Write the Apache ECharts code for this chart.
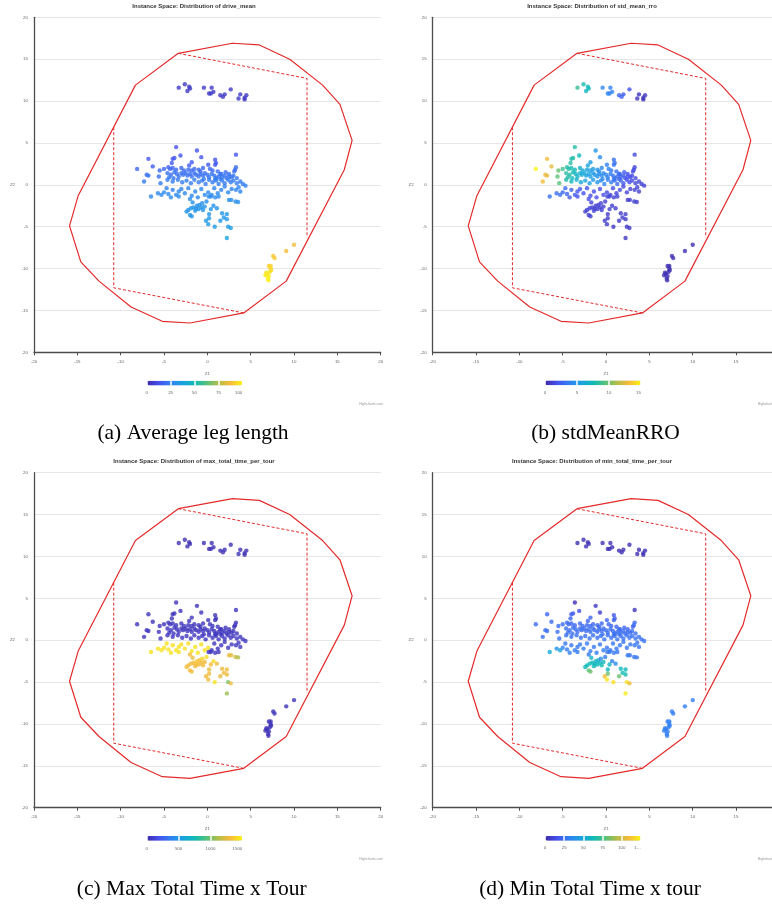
<!DOCTYPE html>
<html>
<head>
<meta charset="utf-8">
<script src="https://cdn.jsdelivr.net/npm/echarts/dist/echarts.min.js"></script>
<style>
html,body{margin:0;padding:0;background:#fff}
#chart{width:772px;height:904px}
</style>
</head>
<body>
<div id="chart"></div>
<script>
// rows: [z1, z2, drive_mean, std_mean_rro, max_total_time_per_tour, min_total_time_per_tour]
var topCluster = [
  [-3.3,11.6,5,8.6,30,3],[-2.6,12.0,5,7.8,30,3],[-2.1,11.7,5,7.4,30,3],[-2.3,11.2,5,7.2,30,3],
  [-2.0,11.5,5,7.4,30,3],[-0.4,11.6,5,4.2,35,3],[0.5,11.6,5,4.0,35,3],[0.7,11.1,5,3.8,35,3],
  [0.2,10.9,5,4.0,35,3],[0.4,10.9,5,3.9,35,3],[1.5,10.7,5,2.8,35,3],[1.8,10.5,5,2.6,35,3],
  [2.0,10.8,5,2.4,35,3],[2.7,11.4,5,2.0,35,3],[3.6,10.3,5,0.6,40,3],[3.8,10.8,5,0.5,40,3],
  [4.3,10.4,5,0.5,40,3],[4.5,10.7,5,0.6,40,3],[4.3,10.2,5,0.4,40,3]
];

var mainUpper = [
  [-3.6,4.5,13,8.0,45,3],[-1.2,4.1,13,5.0,45,6],[-3.1,3.5,13,7.4,45,14],[-0.7,3.3,14,4.4,45,8],
  [0.9,3.0,14,3.2,45,18],[3.3,3.6,13,1.6,45,4],[-6.8,3.1,14,13.2,45,22],[-4.0,3.1,14,8.0,45,20],
  [-3.8,3.2,14,8.0,45,20],[-1.8,2.7,15,5.4,45,22],[0.1,2.4,15,4.0,50,22],[0.9,2.4,15,3.4,50,22],
  [1.0,2.6,15,3.2,50,20],[-6.3,2.2,16,12.6,50,24],[-4.1,2.6,16,8.2,50,22],[-2.1,2.3,16,6.0,50,22],
  [-8.1,1.9,18,15.0,50,24],[-5.5,1.7,18,9.8,50,24],[-5.0,1.9,18,8.8,50,24],[-4.5,2.1,18,8.2,50,23],
  [-4.3,1.9,18,8.0,50,23],[-4.0,2.0,18,7.8,50,23],[-3.6,1.8,19,7.4,50,23],[-3.0,2.0,19,6.6,50,23],
  [-2.7,1.7,19,6.2,50,23],[-2.2,1.8,19,5.8,50,23],[-1.8,1.7,19,5.4,50,23],[-1.5,1.9,19,5.2,50,23],
  [-1.0,1.8,19,4.8,50,23],[-0.8,1.6,19,4.6,50,23],[-0.5,2.0,19,4.2,50,23],[0.3,1.9,19,3.8,50,23],
  [0.6,1.7,19,3.6,50,23],[1.2,1.6,20,3.0,50,23],[1.6,1.3,20,2.8,50,23],[2.1,1.5,20,2.4,50,23],
  [2.5,1.3,20,2.0,50,23],[3.2,1.8,20,1.6,50,23],[3.3,2.1,20,1.5,50,23],[3.1,1.6,20,1.6,50,23],
  [-7.0,1.2,21,12.8,55,25],[-6.8,1.1,21,12.6,55,25],[-5.6,1.0,21,9.6,55,25],[-4.6,1.4,21,8.2,55,25],
  [-4.2,1.2,21,8.0,55,25],[-3.8,1.5,21,7.6,55,25],[-3.5,1.3,21,7.0,55,25],[-3.3,1.0,21,6.8,55,25],
  [-3.0,1.4,21,6.4,55,25],[-2.8,1.2,21,6.2,55,25],[-2.5,1.4,21,6.0,55,25],[-2.3,1.1,21,5.8,55,25],
  [-2.0,1.3,21,5.6,55,25],[-1.8,1.0,21,5.4,55,25],[-1.5,1.4,21,5.2,55,25],[-1.3,1.2,21,5.0,55,25],
  [-1.0,1.0,21,4.8,55,25],[-0.8,1.3,21,4.6,55,25],[-0.5,1.1,21,4.4,55,25],[-0.3,1.4,21,4.2,55,25],
  [0.0,1.2,21,4.0,55,25],[0.2,0.9,22,3.8,55,25],[0.5,1.3,22,3.6,55,25],[0.8,1.1,22,3.4,55,25],
  [1.0,0.8,22,3.2,55,25],[1.3,1.0,22,3.0,55,25],[1.5,1.3,22,2.8,55,25],[1.7,0.9,22,2.6,55,25],
  [2.0,1.1,22,2.4,55,25],[2.2,0.8,22,2.2,55,25],[2.5,1.0,22,2.0,55,25],[2.8,0.9,22,1.8,55,25],
  [3.0,1.1,22,1.6,55,25],[3.4,0.8,22,1.4,55,25],[-4.4,0.9,22,8.0,55,25],[-3.9,0.8,22,7.4,55,25],
  [-7.3,0.4,24,13.0,60,26],[-5.4,0.2,24,9.4,60,26],[-4.6,0.6,24,8.0,60,26],[-4.0,0.4,24,7.2,60,26],
  [-3.4,0.6,24,6.6,60,26],[-2.9,0.3,24,6.2,60,26],[-2.4,0.5,24,5.8,60,26],[-1.9,0.2,24,5.4,60,26],
  [-1.5,0.6,24,5.2,60,26],[-1.0,0.3,24,4.8,60,26],[-0.6,0.5,24,4.4,60,26],[-0.2,0.1,24,4.0,60,26],
  [0.2,0.6,24,3.8,60,26],[0.6,0.3,24,3.6,60,26],[1.0,0.5,24,3.0,60,26],[1.3,0.1,24,2.8,60,26],
  [1.7,0.5,24,2.6,60,26],[2.0,0.2,24,2.4,60,26],[2.4,0.6,24,2.0,60,26],[2.7,0.3,24,1.8,60,26],
  [3.0,0.5,24,1.6,60,26],[3.4,0.2,24,1.4,60,26],[3.8,0.4,24,1.2,60,26],[4.1,0.1,24,1.2,60,26],
  [4.4,-0.1,25,1.1,60,26],[0.9,0.7,24,3.2,60,26],[1.5,0.7,24,2.8,60,26],[-0.4,0.7,24,4.2,60,26]
];

var mainLower = [
  [-6.5,-1.4,28,3.2,1440,50],[-5.7,-1.0,28,3.0,1440,40],[-5.3,-1.2,28,3.0,1440,48],[-5.0,-0.9,28,2.8,1440,32],
  [-4.7,-0.4,27,3.0,1430,28],[-4.5,-1.1,28,2.6,1440,30],[-4.0,-0.6,27,2.4,1430,28],[-3.6,-1.2,28,2.2,1440,30],
  [-3.3,-0.8,28,2.2,1440,28],[-3.0,-0.5,27,2.2,1420,28],[-2.6,-1.0,28,2.0,1440,30],[-2.2,-0.4,27,2.0,1420,28],
  [-1.8,-1.3,28,1.8,1440,30],[-1.4,-0.8,28,1.8,1440,28],[-1.1,-1.5,28,1.8,1440,30],[-0.7,-0.5,27,1.8,1430,28],
  [-0.3,-1.2,28,1.6,1440,30],[0.1,-0.9,28,1.6,1440,28],[0.4,-1.4,28,1.6,60,30],[0.8,-0.4,27,1.6,60,28],
  [1.2,-1.0,28,1.4,60,28],[1.6,-0.6,27,1.4,60,28],[2.0,-0.2,26,1.4,60,28],[2.4,-0.9,28,1.2,60,28],
  [2.8,-0.5,27,1.2,60,28],[3.3,-0.6,27,1.2,60,28],[3.6,-0.3,26,1.2,60,28],[3.8,-0.8,27,1.1,60,28],
  [-2.0,-1.7,30,1.8,1300,30],[-3.3,-1.4,29,2.0,1440,30],[-4.2,-1.5,29,2.2,1440,32],
  [-2.2,-3.0,32,1.2,1300,62],[-1.9,-2.8,32,1.2,1280,64],[-1.6,-2.7,32,1.1,1300,62],[-1.3,-2.85,32,1.1,1320,60],
  [-1.0,-2.9,32,1.1,1300,62],[-0.7,-2.7,32,1.1,1280,60],[-0.5,-3.0,32,1.1,1300,64],[-1.2,-2.5,31,1.1,1350,58],
  [-0.9,-2.4,31,1.1,1320,58],[-1.7,-2.1,31,1.2,1280,58],[-0.6,-2.2,31,1.1,1400,36],[-0.1,-2.0,30,1.1,1420,30],
  [0.15,-1.4,29,1.2,60,28],[0.5,-1.2,29,1.2,60,28],[0.9,-1.5,29,1.2,60,28],[1.3,-1.4,29,1.2,60,28],
  [2.5,-1.8,30,1.0,1280,28],[2.75,-1.8,30,1.0,1260,28],[3.25,-2.0,30,1.0,1200,28],[3.55,-2.05,30,1.0,1120,28],
  [0.7,-2.5,31,1.0,1420,32],[1.1,-2.8,32,1.0,1280,36],[1.7,-3.4,33,0.9,1280,62],[2.25,-3.5,33,0.9,1300,62],
  [1.9,-3.9,33,0.9,1300,64],[2.25,-4.1,34,0.8,1280,64],[1.5,-4.3,34,0.8,1260,82],[0.2,-3.5,33,0.9,1280,60],
  [0.2,-4.0,34,0.9,1300,82],[-0.15,-4.3,34,0.9,1280,108],[0.1,-4.7,35,0.8,1300,121],[0.85,-5.0,35,0.8,1440,120],
  [2.4,-5.0,35,0.7,1020,120],[2.7,-5.15,35,0.7,1280,108],[2.25,-6.35,38,0.6,1080,122],[-2.0,-3.6,33,1.1,1300,80],
  [-1.8,-3.75,33,1.1,1300,82],[-1.4,-3.1,32,1.1,1300,62],[-0.3,-2.6,32,1.1,1300,60],[-2.4,-3.2,32,1.2,1300,62],
  [0.4,-2.9,32,1.0,1300,58]
];

var lowerRight = [
  [10.0,-7.15,86,0.3,40,31],[9.1,-7.9,87,0.3,40,31],[7.6,-8.5,90,0.3,40,30],[7.75,-8.75,90,0.3,40,30],
  [7.1,-9.7,92,0.3,40,31],[7.3,-9.7,92,0.3,40,31],[7.3,-10.0,94,0.3,40,31],[7.35,-10.2,94,0.3,40,31],
  [7.2,-10.4,96,0.3,40,31],[6.8,-10.5,96,0.3,40,31],[6.9,-10.65,97,0.3,40,31],[6.7,-10.8,97,0.3,40,31],
  [7.1,-10.9,98,0.3,40,31],[7.0,-11.2,99,0.3,40,31],[7.05,-11.4,99,0.3,40,31]
];

// instance space boundary (solid) and footprint (dashed)
var boundary = [[-3.35,15.7],[2.9,16.9],[6.0,16.7],[9.5,15.0],[13.3,11.9],[15.3,9.6],[16.7,5.3],
  [15.8,1.8],[9.1,-11.5],[4.2,-15.3],[-2.0,-16.5],[-5.2,-16.3],[-8.8,-14.6],[-12.5,-11.5],
  [-14.6,-9.2],[-15.9,-4.9],[-14.9,-1.3],[-8.3,11.9],[-3.35,15.7]];
var footprintTop = [[-3.35,15.7],[11.5,12.7],[11.5,-6.3]];
var footprintBottom = [[4.2,-15.3],[-10.8,-12.3],[-10.8,6.9]];

var titles = ['Instance Space: Distribution of drive_mean', 'Instance Space: Distribution of std_mean_rro',
  'Instance Space: Distribution of max_total_time_per_tour', 'Instance Space: Distribution of min_total_time_per_tour'];
var captions = ['(a) Average leg length', '(b) stdMeanRRO', '(c) Max Total Time x Tour', '(d) Min Total Time x tour'];
var valueCol = [2, 3, 4, 5];
var colorMax = [100, 15, 1500, 125];
var colorStep = [25, 5, 500, 25];

var parula = ['#3c2aa8','#4650ee','#3080f2','#1aa2e0','#0fbab8','#52c27c','#b4bd48','#f7bb3a','#f9f514'];

// layout
var plotLeft = [34, 432.7, 34, 432.7];
var plotTop = [17.3, 17.3, 472.7, 472.7];
var plotW = 346.7, plotH = 335;
var barLeft = [146.7, 545, 146.7, 545];
var barTop = [380.7, 380.6, 836.1, 836];
var barLen = [95.6, 96, 95.6, 96];
var barThick = 4.7;
var titleX = [194, 592, 194, 592];
var titleY = [3.2, 3.2, 458.6, 458.6];
var capX = [193, 605.5, 191.7, 590];
var capY = [422.7, 422.7, 878, 878];
var creditX = [359.3, 757.7, 359.3, 757.7];
var creditY = [402.3, 402.3, 858, 858];

var rows = topCluster.concat(mainUpper, mainLower, lowerRight);

var grid = [], xAxis = [], yAxis = [], series = [], visualMap = [], title = [], graphic = [];
var labelStyle = {fontSize: 4.4, color: '#666', fontFamily: 'Liberation Sans'};

for (var p = 0; p < 4; p++) {
  grid.push({left: plotLeft[p], top: plotTop[p], width: plotW, height: plotH, outerBoundsMode: 'none', containLabel: false});
  xAxis.push({
    gridIndex: p, type: 'value', min: -20, max: 20, interval: 5,
    name: 'Z1', nameLocation: 'middle', nameGap: 19, nameTextStyle: labelStyle,
    axisLine: {show: true, onZero: false, lineStyle: {color: '#4d4d4d', width: 1.3}},
    axisTick: {show: true, length: 3, lineStyle: {color: '#4d4d4d'}},
    axisLabel: {fontSize: 4.4, color: '#666', margin: 7, fontFamily: 'Liberation Sans'},
    splitLine: {show: false}
  });
  yAxis.push({
    gridIndex: p, type: 'value', min: -20, max: 20, interval: 5,
    name: 'Z2', nameLocation: 'middle', nameRotate: 0, nameGap: 19, nameTextStyle: labelStyle,
    axisLine: {show: true, onZero: false, lineStyle: {color: '#4d4d4d', width: 1.3}},
    axisTick: {show: false},
    axisLabel: {fontSize: 4.4, color: '#666', margin: 6, fontFamily: 'Liberation Sans'},
    splitLine: {show: true, lineStyle: {color: '#e6e6e6', width: 1}}
  });
  var col = valueCol[p];
  series.push({
    type: 'scatter', xAxisIndex: p, yAxisIndex: p, symbolSize: 4.4,
    data: rows.map(function (r) { return [r[0], r[1], r[col]]; })
  });
  series.push({
    type: 'line', xAxisIndex: p, yAxisIndex: p, data: boundary, showSymbol: false, z: 3,
    lineStyle: {color: '#e32b2b', width: 1.2}
  });
  [footprintTop, footprintBottom].forEach(function (fp) {
    series.push({
      type: 'line', xAxisIndex: p, yAxisIndex: p, data: fp, showSymbol: false, z: 3,
      lineStyle: {color: '#e32b2b', width: 1, type: [3, 2]}
    });
  });
  visualMap.push({
    type: 'continuous', seriesIndex: p * 4, dimension: 2, min: 0, max: colorMax[p],
    orient: 'horizontal', left: barLeft[p], top: barTop[p], padding: 0,
    itemWidth: barThick, itemHeight: barLen[p], calculable: false, hoverLink: false,
    inRange: {color: parula}
  });
  title.push({
    text: titles[p], left: titleX[p], top: titleY[p], textAlign: 'center', padding: 0,
    textStyle: {fontSize: 6, fontWeight: 'bold', color: '#333', fontFamily: 'Liberation Sans'}
  });
  title.push({
    text: captions[p], left: capX[p], top: capY[p], textAlign: 'center', padding: 0,
    textStyle: {fontSize: 21.5, fontWeight: 'normal', color: '#000', fontFamily: 'Liberation Serif'}
  });
  graphic.push({
    type: 'text', left: creditX[p], top: creditY[p], silent: true,
    style: {text: 'Highcharts.com', fontSize: 3.4, fill: '#999', fontFamily: 'Liberation Sans'}
  });
}

// colour-bar tick labels and separators, one small axis over each bar
for (var q = 0; q < 4; q++) {
  var gi = 4 + q;
  grid.push({left: barLeft[q], top: barTop[q], width: barLen[q], height: barThick, outerBoundsMode: 'none', containLabel: false});
  xAxis.push({
    gridIndex: gi, type: 'value', min: 0, max: colorMax[q], interval: colorStep[q], z: 10,
    axisLine: {show: false}, axisTick: {show: false},
    axisLabel: {fontSize: 4.4, color: '#666', margin: 5.5, alignMaxLabel: 'right', fontFamily: 'Liberation Sans',
      formatter: (function (m) { return function (v) { return (v === m && m === 125) ? '1\u2026' : String(v); }; })(colorMax[q])},
    splitLine: {show: true, lineStyle: {color: '#fff', width: 1.5}}
  });
  yAxis.push({gridIndex: gi, type: 'value', show: false});
}

var chart = echarts.init(document.getElementById('chart'));
chart.setOption({
  animation: false,
  backgroundColor: '#fff',
  title: title,
  grid: grid,
  xAxis: xAxis,
  yAxis: yAxis,
  visualMap: visualMap,
  graphic: graphic,
  series: series
});
</script>
</body>
</html>
